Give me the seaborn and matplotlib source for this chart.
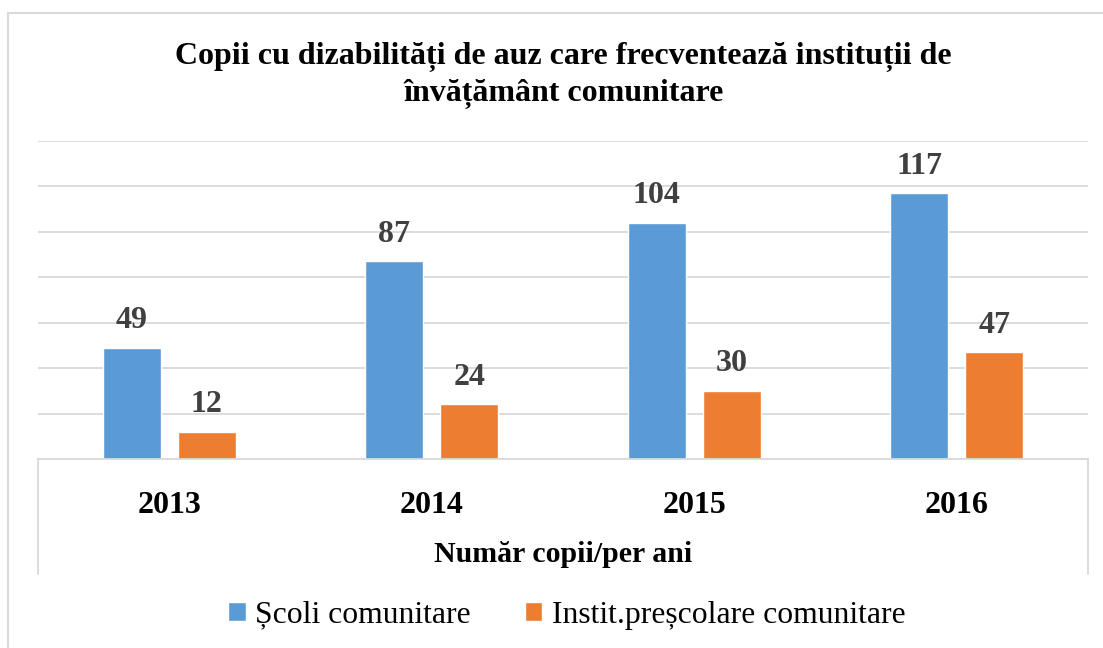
import numpy as np
import pandas as pd
import matplotlib
matplotlib.use("Agg")
import matplotlib.pyplot as plt
import seaborn as sns

# ── Data ────────────────────────────────────────────────────────────────────
years = ["2013", "2014", "2015", "2016"]
scoli = [49, 87, 104, 117]
prescolare = [12, 24, 30, 47]
series_names = ["Școli comunitare", "Instit.preșcolare comunitare"]

TITLE = "Copii cu dizabilități de auz care frecventează instituții de\nînvățământ comunitare"
XLABEL = "Număr copii/per ani"

PALETTE = {series_names[0]: "#5B9BD5", series_names[1]: "#ED7D31"}

df = pd.DataFrame({
    "an": years * 2,
    "valoare": scoli + prescolare,
    "serie": [series_names[0]] * len(years) + [series_names[1]] * len(years),
})

# ── Styling ─────────────────────────────────────────────────────────────────
sns.set_theme(style="white")
plt.rcParams["font.family"] = ["Liberation Serif", "DejaVu Serif"]
plt.rcParams["text.color"] = "black"
plt.rcParams["axes.labelcolor"] = "black"
plt.rcParams["xtick.color"] = "black"

W, H = 1103, 648
fig = plt.figure(figsize=(W / 100, H / 100), dpi=100)
ax = fig.add_axes([38 / W, 1 - 459 / H, 1050 / W, 318 / H])

sns.barplot(data=df, x="an", y="valoare", hue="serie", palette=PALETTE,
            width=0.572, gap=0.227, saturation=1, ax=ax, legend=True)

ax.set_xlim(-0.5, len(years) - 0.5)
ax.set_ylim(0, 140)
ax.set_yticks(np.arange(0, 141, 20))
ax.yaxis.grid(True, color="#D9D9D9", linewidth=1.3)
ax.set_axisbelow(True)
ax.tick_params(axis="y", left=False, labelleft=False)
ax.tick_params(axis="x", length=0, pad=23, labelsize=23, labelcolor="black")
for lbl in ax.get_xticklabels():
    lbl.set_fontweight("bold")
for side in ["top", "left", "right"]:
    ax.spines[side].set_visible(False)
ax.spines["bottom"].set_color("#D9D9D9")
ax.spines["bottom"].set_linewidth(1.3)
ax.set_ylabel("")
ax.set_xlabel(XLABEL, fontsize=21.5, fontweight="bold", labelpad=15, color="black")

# data labels above bars
for cont in ax.containers:
    ax.bar_label(cont, padding=9, fontsize=23, fontweight="bold", color="#404040")

# category box sides
for xv in (0, 1):
    ax.plot([xv, xv], [0, -0.362], transform=ax.transAxes, color="#D9D9D9",
            linewidth=1.3, clip_on=False)

# outer chart frame (top + left visible)
fig.add_artist(plt.Line2D([8 / W, 8 / W], [0, 1 - 13 / H], color="#D9D9D9", linewidth=1.5))
fig.add_artist(plt.Line2D([8 / W, 1], [1 - 13 / H, 1 - 13 / H], color="#D9D9D9", linewidth=1.5))

fig.text(0.511, 1 - 42 / H, TITLE, ha="center", va="top", fontsize=23,
         fontweight="bold", linespacing=1.3, color="black")

handles, labels = ax.get_legend_handles_labels()
ax.get_legend().remove()
fig.legend(handles, labels, loc="center", bbox_to_anchor=(0.514, 1 - 615 / H),
           ncol=2, frameon=False, fontsize=22.8, handlelength=0.55, handleheight=0.55,
           handletextpad=0.3, columnspacing=1.7, labelcolor="black")

fig.savefig("out.png", dpi=100)
